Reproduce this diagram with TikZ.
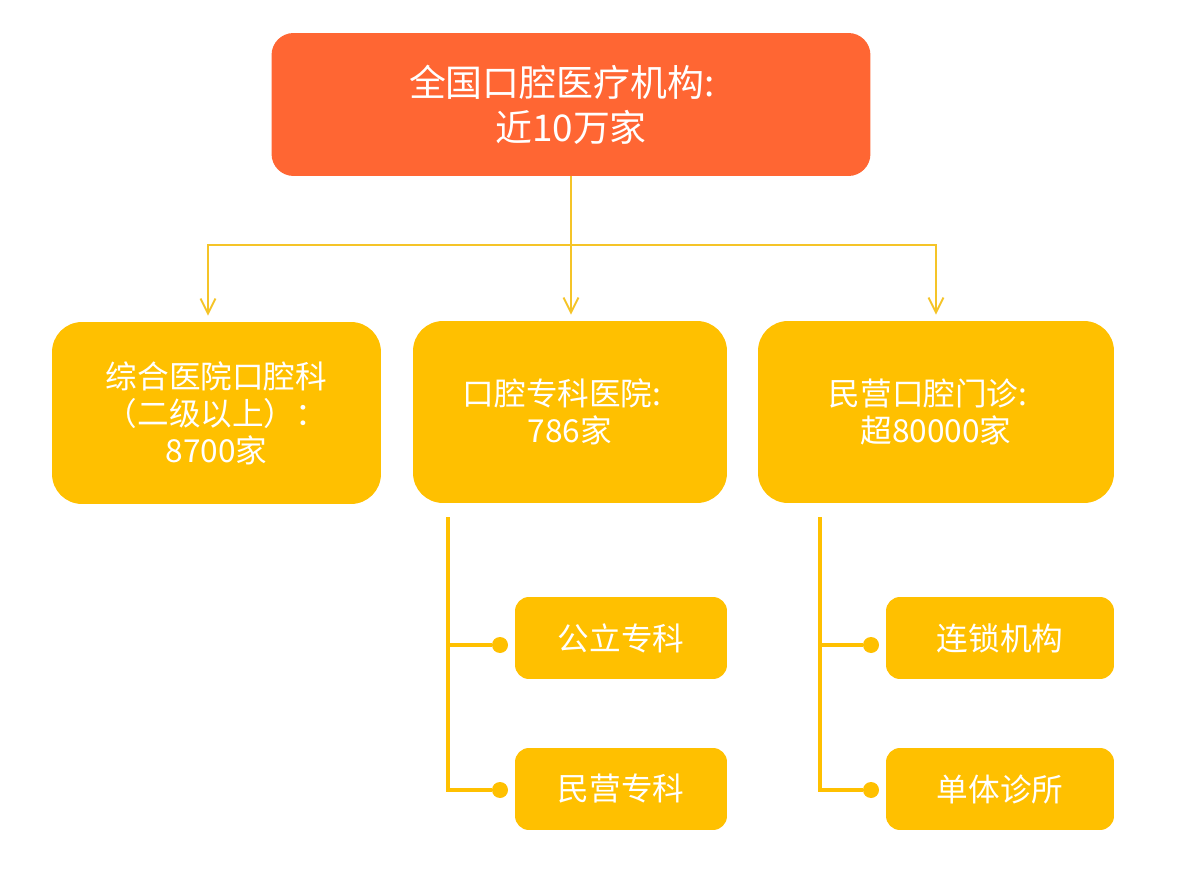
\documentclass[tikz,border=0pt]{standalone}
\usepackage{fontspec}
\usepackage{tikz}
\usetikzlibrary{arrows.meta, positioning}
\newfontfamily\cjk{Noto Sans CJK SC}
\definecolor{ocorange}{RGB}{255,102,51}
\definecolor{ocyellow}{RGB}{255,192,0}
\definecolor{ocline}{RGB}{245,196,40}

\begin{document}
\begin{tikzpicture}[
  x=0.02cm, y=-0.02cm,
  every node/.style={font=\cjk, text=white},
  topbox/.style={fill=ocorange, rounded corners=0.44cm, align=center, inner sep=0pt,
    minimum width=11.98cm, minimum height=2.86cm, font=\cjk\fontsize{21}{25.5}\selectfont},
  catbox/.style={fill=ocyellow, rounded corners=0.6cm, align=center, inner sep=0pt,
    minimum height=3.64cm, font=\cjk\fontsize{18}{21}\selectfont},
  subbox/.style={fill=ocyellow, rounded corners=0.28cm, inner sep=0pt,
    minimum height=1.64cm, font=\cjk\fontsize{18}{21}\selectfont},
  flow/.style={-{Straight Barb[length=3mm, width=3mm]}, line width=1.1pt, ocline, shorten >=0.12cm},
  branch/.style={line width=1.9pt, ocyellow},
  dot/.style={circle, fill=ocyellow, inner sep=0pt, minimum size=0.32cm}
]
\fill[white] (0,0) rectangle (1200,871);
\node[topbox] (root) at (571,104.5) {全国口腔医疗机构:\hspace*{0.5em}\\近10万家};
\node[catbox, minimum width=6.58cm] (general) at (216.5,413) {综合医院口腔科\\（二级以上）：\\8700家};
\node[catbox, minimum width=6.28cm] (special) at (570,412) {口腔专科医院:\hspace*{0.5em}\\786家};
\node[catbox, minimum width=7.12cm] (private) at (936,412) {民营口腔门诊:\hspace*{0.5em}\\超80000家};
\node[subbox, minimum width=4.24cm] (public) at (621,638) {公立专科};
\node[subbox, minimum width=4.24cm] (privspec) at (621,789) {民营专科};
\node[subbox, minimum width=4.56cm] (chain) at (1000,638) {连锁机构};
\node[subbox, minimum width=4.56cm] (single) at (1000,789) {单体诊所};
\coordinate (split) at (571,245);
\draw[flow] (root.south) -- (root.south |- special.north);
\draw[flow] (split) -| ([xshift=-0.17cm]general.north);
\draw[flow] (split) -| (private.north);
\coordinate (stem1) at (448,517);
\node[dot] (dot1) at (500,645) {};
\node[dot] (dot2) at (500,790) {};
\draw[branch] (stem1) |- (dot2);
\draw[branch] (stem1 |- dot1) -- (dot1);
\coordinate (stem2) at (820,517);
\node[dot] (dot3) at (871,645) {};
\node[dot] (dot4) at (871,790) {};
\draw[branch] (stem2) |- (dot4);
\draw[branch] (stem2 |- dot3) -- (dot3);
\end{tikzpicture}
\end{document}
